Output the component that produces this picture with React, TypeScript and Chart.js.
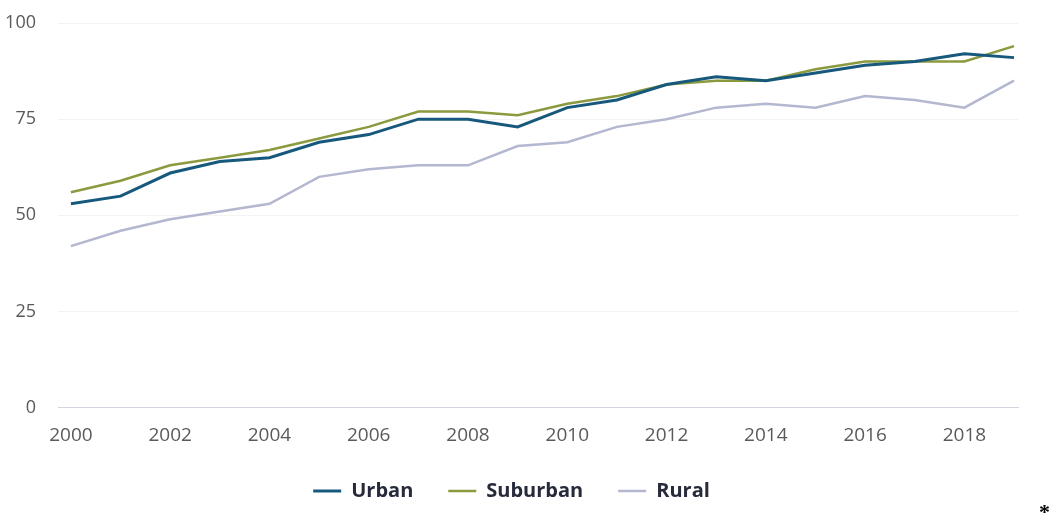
import React, { useEffect, useRef } from 'react';
import { Chart, registerables } from 'chart.js';

Chart.register(...registerables);

const years = [2000, 2001, 2002, 2003, 2004, 2005, 2006, 2007, 2008, 2009, 2010, 2011, 2012, 2013, 2014, 2015, 2016, 2017, 2018, 2019];
const urban = [53, 55, 61, 64, 65, 69, 71, 75, 75, 73, 78, 80, 84, 86, 85, 87, 89, 90, 92, 91];
const suburban = [56, 59, 63, 65, 67, 70, 73, 77, 77, 76, 79, 81, 84, 85, 85, 88, 90, 90, 90, 94];
const rural = [42, 46, 49, 51, 53, 60, 62, 63, 63, 68, 69, 73, 75, 78, 79, 78, 81, 80, 78, 85];
const xTickYears = [2000, 2002, 2004, 2006, 2008, 2010, 2012, 2014, 2016, 2018];
const yTickValues = [0, 25, 50, 75, 100];
const seriesNames = ['Urban', 'Suburban', 'Rural'];
const seriesColors = ['#17597d', '#8b9a3e', '#b3b7cf'];

export default function App() {
  const canvasRef = useRef<HTMLCanvasElement | null>(null);

  useEffect(() => {
    if (!canvasRef.current) return;
    const seriesValues = [urban, suburban, rural];
    const chart = new Chart(canvasRef.current, {
      type: 'line',
      data: {
        datasets: seriesNames.map((name, i) => ({
          label: name,
          data: years.map((y, j) => ({ x: y, y: seriesValues[i][j] })),
          borderColor: seriesColors[i],
          backgroundColor: seriesColors[i],
          borderWidth: i === 0 ? 3 : 2.5,
          pointRadius: 0,
          tension: 0,
          fill: false,
        })),
      },
      options: {
        animation: false,
        responsive: true,
        maintainAspectRatio: false,
        layout: { autoPadding: false, padding: { left: 5, right: 32, top: 23, bottom: 6 } },
        plugins: {
          tooltip: { enabled: false },
          legend: {
            position: 'bottom',
            labels: {
              usePointStyle: true,
              pointStyle: 'line',
              pointStyleWidth: 28,
              padding: 35,
              color: '#262a3b',
              font: { family: 'Open Sans', size: 20, weight: 'bold' },
            },
          },
        },
        scales: {
          x: {
            type: 'linear',
            min: 1999.74,
            max: 2019.08,
            afterBuildTicks: (axis: any) => {
              axis.ticks = xTickYears.map((v) => ({ value: v }));
            },
            afterFit: (axis: any) => {
              axis.height = axis.height - 17.5;
              axis.paddingLeft = 0;
              axis.paddingRight = 0;
            },
            grid: { display: false, drawTicks: false },
            border: { display: true, color: '#d3d6de', width: 1 },
            ticks: {
              autoSkip: false,
              maxRotation: 0,
              padding: 16.5,
              color: '#5a5a5a',
              font: { family: 'Open Sans', size: 19 },
              callback: (v: any) => String(v),
            },
          },
          y: {
            min: 0,
            max: 100,
            afterBuildTicks: (axis: any) => {
              axis.ticks = yTickValues.map((v) => ({ value: v }));
            },
            afterFit: (axis: any) => {
              axis.width = 53;
              axis.paddingTop = 0;
              axis.paddingBottom = 0;
            },
            grid: {
              drawTicks: false,
              color: (ctx: any) => (ctx.tick && ctx.tick.value === 0 ? '#d3d6de' : '#f3f3f3'),
            },
            border: { display: false },
            ticks: {
              padding: 22,
              color: '#5a5a5a',
              font: { family: 'Open Sans', size: 18 },
              callback: (v: any) => String(v),
            },
          },
        },
      },
    });
    return () => chart.destroy();
  }, []);

  return (
    <div style={{ position: 'absolute', left: 0, top: 0, width: 1050, height: 517, background: '#fff' }}>
      <canvas ref={canvasRef} />
      <span
        style={{
          position: 'absolute',
          left: 1039,
          top: 501,
          fontFamily: 'Liberation Serif',
          fontSize: 22,
          fontWeight: 'bold',
          color: '#000',
          lineHeight: 1,
        }}
      >
        *
      </span>
    </div>
  );
}
